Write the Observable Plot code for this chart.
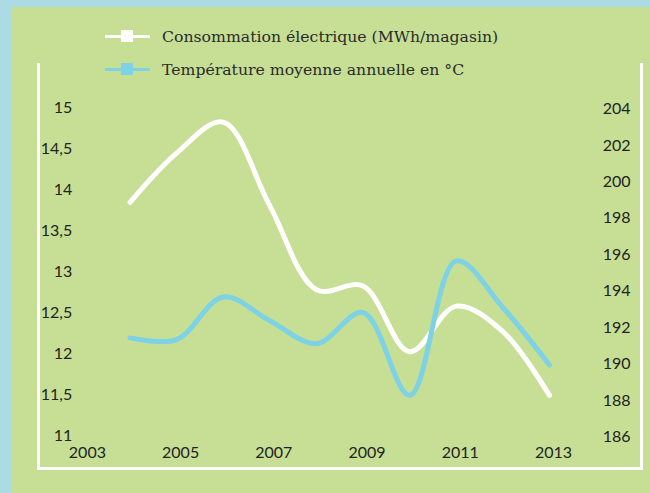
<!DOCTYPE html>
<html>
<head>
<meta charset="utf-8">
<script src="https://cdn.jsdelivr.net/npm/d3@7"></script>
<script src="https://cdn.jsdelivr.net/npm/@observablehq/plot@0.6"></script>
<style>
  html, body { margin: 0; padding: 0; }
  body { width: 650px; height: 493px; overflow: hidden; background: #acdce3; position: relative; }
  #panel { position: absolute; left: 12px; top: 7px; width: 638px; height: 486px; background: #c6df94; }
  #frame { position: absolute; left: 37px; top: 63px; width: 606px; height: 407px; box-sizing: border-box;
           border-left: 3px solid #fff; border-right: 3px solid #fff; border-bottom: 3px solid #fff; }
  #chart { position: absolute; left: 0; top: 0; }
  .sw-line { position: absolute; left: 105px; width: 45px; height: 3px; }
  .sw-box { position: absolute; left: 121px; width: 12px; height: 12px; }
  .leg-text { position: absolute; left: 162px; font-family: "DejaVu Serif", serif; font-size: 15.7px;
              line-height: 20px; color: #2b2b2b; white-space: nowrap; }
</style>
</head>
<body>
<div id="panel"></div>
<div id="frame"></div>
<div id="chart"></div>
<div id="legend"></div>
<script>
// ---- data ----
const years = [2004, 2005, 2006, 2007, 2008, 2009, 2010, 2011, 2012, 2013];
const consumption = [198.8, 201.5, 203.2, 198.6, 194.0, 194.2, 190.6, 193.1, 191.7, 188.2]; // MWh/magasin (right axis)
const temperature = [12.19, 12.17, 12.69, 12.40, 12.12, 12.50, 11.49, 13.13, 12.56, 11.86]; // °C (left axis)
const xTicks = [2003, 2005, 2007, 2009, 2011, 2013];
const leftTicks = [11, 11.5, 12, 12.5, 13, 13.5, 14, 14.5, 15];
const rightTicks = [186, 188, 190, 192, 194, 196, 198, 200, 202, 204];
const seriesNames = ["Consommation électrique (MWh/magasin)", "Température moyenne annuelle en °C"];
const seriesColors = ["#ffffff", "#7dd2e6"];

// right axis (186–204) mapped onto left axis (11–15)
const toLeft = v => 11 + (v - 186) * (4 / 18);

const consData = years.map((y, i) => ({year: y, v: toLeft(consumption[i])}));
const tempData = years.map((y, i) => ({year: y, v: temperature[i]}));

const W = 650, H = 493;
const xLeft = 82.9, xRight = 549, yTop = 107, yBottom = 435;

const plot = Plot.plot({
  width: W,
  height: H,
  marginLeft: xLeft,
  marginRight: W - xRight,
  marginTop: yTop,
  marginBottom: H - yBottom,
  style: {background: "transparent", fontFamily: "Lato, sans-serif", fontSize: "16px", color: "#222", overflow: "visible"},
  x: {domain: [2003, 2013], axis: null, label: null},
  y: {domain: [11, 15], axis: null, label: null},
  marks: [
    Plot.axisX({ticks: xTicks, tickFormat: d => String(d), tickSize: 0, tickPadding: 11, dx: 4, fontSize: 16, label: null}),
    Plot.axisY({anchor: "left", ticks: leftTicks, tickFormat: d => String(d).replace(".", ","), tickSize: 0, tickPadding: 11.2, fontSize: 16, label: null}),
    Plot.text(rightTicks, {y: d => toLeft(d), text: d => String(d), frameAnchor: "right", textAnchor: "end", dx: 81, dy: 1.5, fontSize: 16, fill: "#222"}),
    Plot.line(consData, {x: "year", y: "v", stroke: seriesColors[0], strokeWidth: 5, curve: "catmull-rom", strokeLinecap: "round"}),
    Plot.line(tempData, {x: "year", y: "v", stroke: seriesColors[1], strokeWidth: 5, curve: "catmull-rom", strokeLinecap: "round"})
  ]
});
document.getElementById("chart").appendChild(plot);

// legend
const legend = document.getElementById("legend");
const rows = [36, 69];
seriesNames.forEach((name, i) => {
  const cy = rows[i];
  const line = document.createElement("div");
  line.className = "sw-line";
  line.style.top = (cy - 1.5) + "px";
  line.style.background = seriesColors[i];
  const box = document.createElement("div");
  box.className = "sw-box";
  box.style.top = (cy - 6) + "px";
  box.style.background = seriesColors[i];
  const txt = document.createElement("div");
  txt.className = "leg-text";
  txt.style.top = (cy - 9) + "px";
  txt.textContent = name;
  legend.appendChild(line);
  legend.appendChild(box);
  legend.appendChild(txt);
});
</script>
</body>
</html>
